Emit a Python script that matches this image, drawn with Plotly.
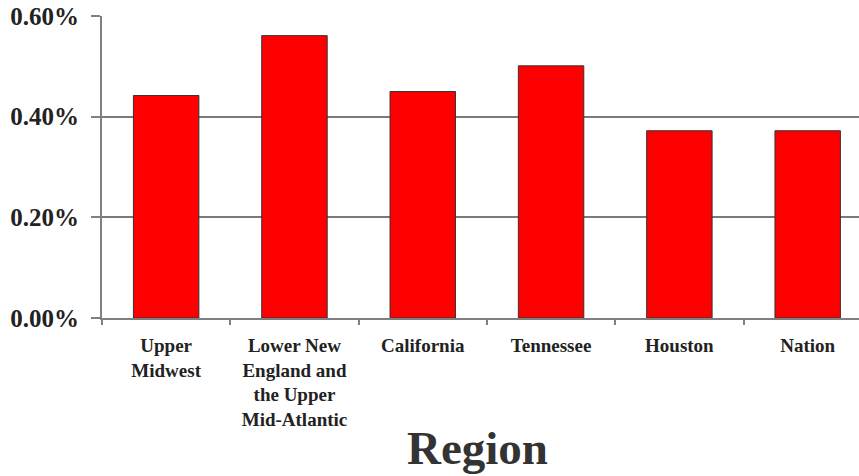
import plotly.graph_objects as go

categories = ["Upper<br>Midwest", "Lower New<br>England and<br>the Upper<br>Mid-Atlantic",
              "California", "Tennessee", "Houston", "Nation"]
values = [0.442, 0.561, 0.450, 0.501, 0.372, 0.372]
y_ticks = [0.0, 0.2, 0.4, 0.6]
y_tick_labels = ["0.00%", "0.20%", "0.40%", "0.60%"]
x_title = "Region"

fig = go.Figure(go.Bar(
    x=categories,
    y=values,
    marker=dict(color="#ff0000", line=dict(color="#333333", width=1)),
))

fig.update_layout(
    width=859, height=476,
    margin=dict(l=102, r=0, t=16, b=158),
    paper_bgcolor="white", plot_bgcolor="white",
    bargap=0.49,
    showlegend=False,
    font=dict(family="Liberation Serif", color="#222222"),
)
fig.update_xaxes(
    type="category",
    range=[-0.5, 5.4],
    tickmode="array",
    tickvals=categories,
    ticktext=["<b>%s</b>" % c for c in categories],
    tickfont=dict(size=19, family="Liberation Serif", color="#222222"),
    showline=True, linecolor="#808080", linewidth=2,
    ticks="outside", ticklen=5, tickcolor="#808080", tickwidth=2,
    tickson="boundaries",
    showgrid=False, zeroline=False,
    ticklabelstandoff=9,
)
fig.update_yaxes(
    range=[0, 0.6],
    tickmode="array",
    tickvals=y_ticks,
    ticktext=["<b>%s</b>" % t for t in y_tick_labels],
    tickfont=dict(size=25, family="Liberation Serif", color="#222222"),
    showline=True, linecolor="#808080", linewidth=2,
    ticks="outside", ticklen=9, tickcolor="#808080", tickwidth=2,
    showgrid=True, gridcolor="#7a7a7a", gridwidth=2,
    zeroline=False,
    ticklabelstandoff=7,
)

fig.add_annotation(
    text="<b>%s</b>" % x_title,
    xref="paper", yref="paper",
    x=(477 - 102) / 757, y=(318 - 448) / 302,
    xanchor="center", yanchor="middle",
    showarrow=False,
    font=dict(size=47, family="Liberation Serif", color="#333333"),
)

fig.write_html("out.html")
